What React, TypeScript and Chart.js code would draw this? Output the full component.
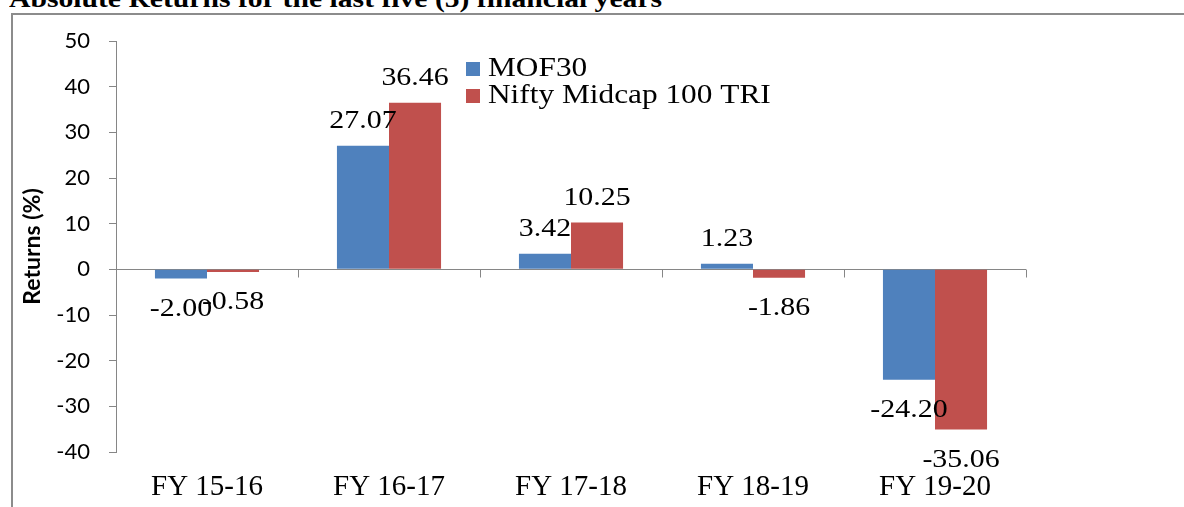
import React, { useEffect, useRef } from 'react';
import { Chart, registerables } from 'chart.js';

Chart.register(...registerables);

const titleText = 'Absolute Returns for the last five (5) financial years';
const yAxisTitle = 'Returns (%)';
const categories = ['FY 15-16', 'FY 16-17', 'FY 17-18', 'FY 18-19', 'FY 19-20'];
const seriesNames = ['MOF30', 'Nifty Midcap 100 TRI'];
const mof30Values = [-2.0, 27.07, 3.42, 1.23, -24.2];
const niftyValues = [-0.58, 36.46, 10.25, -1.86, -35.06];
const seriesColors = ['#4F81BD', '#C0504D'];
const yMin = -40;
const yMax = 50;
const yStep = 10;

const AXIS_GRAY = '#868686';
const SERIF = '"Liberation Serif", "Times New Roman", serif';
const SANS = 'Lato, "Open Sans", sans-serif';

const zeroLinePlugin = {
  id: 'zeroLine',
  beforeDatasetsDraw(chart: any) {
    const { ctx, chartArea } = chart;
    const y = chart.scales.y;
    const x = chart.scales.x;
    const y0 = Math.round(y.getPixelForValue(0)) + 0.5;
    ctx.save();
    ctx.strokeStyle = AXIS_GRAY;
    ctx.lineWidth = 1;
    ctx.beginPath();
    ctx.moveTo(chartArea.left, y0);
    ctx.lineTo(chartArea.right, y0);
    const n = categories.length;
    for (let i = 1; i <= n; i++) {
      let bx;
      if (i < n) bx = (x.getPixelForValue(i - 1) + x.getPixelForValue(i)) / 2;
      else bx = chartArea.right;
      bx = Math.round(bx) + 0.5;
      ctx.moveTo(bx, y0);
      ctx.lineTo(bx, y0 + 8);
    }
    ctx.stroke();
    ctx.restore();
  },
};

const dataLabelPlugin = {
  id: 'dataLabels',
  afterDatasetsDraw(chart: any) {
    const { ctx } = chart;
    ctx.save();
    ctx.fillStyle = '#000';
    ctx.font = `26px ${SERIF}`;
    ctx.textAlign = 'center';
    ctx.textBaseline = 'alphabetic';
    chart.data.datasets.forEach((ds: any, di: number) => {
      const meta = chart.getDatasetMeta(di);
      meta.data.forEach((el: any, i: number) => {
        const v = ds.data[i];
        const txt = v.toFixed(2);
        const yb = v >= 0 ? el.y - 17.5 : el.y + 37.5;
        ctx.save();
        ctx.translate(el.x, yb);
        ctx.scale(1.15, 1);
        ctx.fillText(txt, 0, 0);
        ctx.restore();
      });
    });
    ctx.restore();
  },
};

const legendPlugin = {
  id: 'insideLegend',
  afterDraw(chart: any) {
    const { ctx, chartArea } = chart;
    const left = chartArea.left + 350;
    const top = chartArea.top + 21;
    const rowH = 27;
    ctx.save();
    ctx.font = `27px ${SERIF}`;
    ctx.textAlign = 'left';
    ctx.textBaseline = 'alphabetic';
    chart.data.datasets.forEach((ds: any, i: number) => {
      const ry = top + i * rowH;
      ctx.fillStyle = ds.backgroundColor;
      ctx.fillRect(left, ry, 14, 14);
      ctx.fillStyle = '#000';
      ctx.save();
      ctx.translate(left + 22, ry + 14);
      ctx.scale(1.16, 1);
      ctx.fillText(ds.label, 0, 0);
      ctx.restore();
    });
    ctx.restore();
  },
};

export default function App() {
  const canvasRef = useRef<HTMLCanvasElement | null>(null);

  useEffect(() => {
    if (!canvasRef.current) return;
    const chart = new Chart(canvasRef.current, {
      type: 'bar',
      data: {
        labels: categories,
        datasets: [
          {
            label: seriesNames[0],
            data: mof30Values,
            backgroundColor: seriesColors[0],
            borderWidth: 0,
            barPercentage: 1,
            categoryPercentage: 0.572,
          },
          {
            label: seriesNames[1],
            data: niftyValues,
            backgroundColor: seriesColors[1],
            borderWidth: 0,
            barPercentage: 1,
            categoryPercentage: 0.572,
          },
        ],
      },
      options: {
        animation: false,
        responsive: false,
        maintainAspectRatio: false,
        devicePixelRatio: 1,
        layout: { padding: { top: 41, right: 158, left: 0, bottom: 0 } },
        plugins: {
          legend: { display: false },
          title: { display: false },
          tooltip: { enabled: false },
        },
        scales: {
          x: {
            grid: { display: false, drawTicks: false },
            border: { display: false },
            ticks: {
              font: { family: SERIF, size: 29 },
              color: '#000',
              padding: 18,
              maxRotation: 0,
              autoSkip: false,
            },
            afterFit(scale: any) {
              scale.height = 55;
            },
          },
          y: {
            min: yMin,
            max: yMax,
            ticks: {
              stepSize: yStep,
              font: { family: SANS, size: 22 },
              color: '#000',
              padding: 19,
            },
            grid: {
              drawOnChartArea: false,
              tickLength: 7,
              tickColor: AXIS_GRAY,
            },
            border: { color: AXIS_GRAY, width: 1 },
            title: {
              display: true,
              text: yAxisTitle,
              font: { family: SANS, size: 23, weight: 'bold' },
              color: '#000',
              padding: { top: 19, bottom: 0 },
            },
            afterFit(scale: any) {
              scale.width = 116;
            },
          },
        },
      },
      plugins: [zeroLinePlugin, dataLabelPlugin, legendPlugin],
    });
    return () => chart.destroy();
  }, []);

  return (
    <div style={{ position: 'relative', width: 1184, height: 507, overflow: 'hidden', background: '#fff' }}>
      <style>{'body{margin:0;}'}</style>
      <div
        style={{
          position: 'absolute',
          left: 9,
          top: -14,
          fontFamily: SERIF,
          fontWeight: 'bold',
          fontSize: 26,
          lineHeight: '26px',
          whiteSpace: 'nowrap',
          transform: 'scaleX(1.14)',
          transformOrigin: 'left top',
          color: '#000',
        }}
      >
        {titleText}
      </div>
      <div
        style={{
          position: 'absolute',
          left: 11,
          top: 13,
          width: 1300,
          height: 600,
          borderLeft: '2px solid #8c8c8c',
          borderTop: '2px solid #8c8c8c',
          boxSizing: 'border-box',
        }}
      />
      <canvas
        ref={canvasRef}
        width={1184}
        height={507}
        style={{ position: 'absolute', left: 0, top: 0, width: 1184, height: 507 }}
      />
    </div>
  );
}
